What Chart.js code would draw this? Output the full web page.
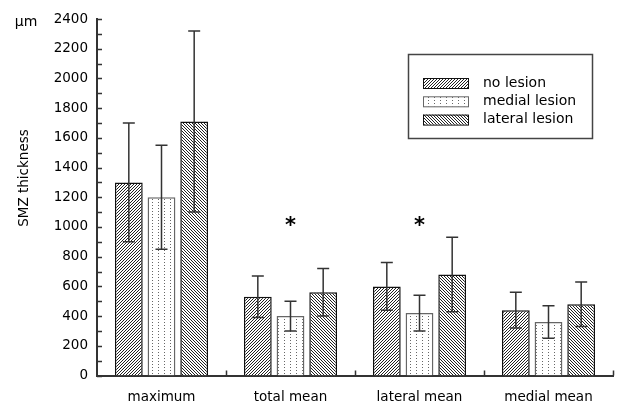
<!DOCTYPE html>
<html>
<head>
<meta charset="utf-8">
<script src="https://cdn.jsdelivr.net/npm/chart.js@4/dist/chart.umd.min.js"></script>
<style>
  html, body { margin: 0; padding: 0; background: #fff; }
  #wrap { width: 617px; height: 405px; }
</style>
</head>
<body>
<div id="wrap"><canvas id="myChart"></canvas></div>
<script>
// data
const categories = ['maximum', 'total mean', 'lateral mean', 'medial mean'];
const seriesNames = ['no lesion', 'medial lesion', 'lateral lesion'];
const noLesion = [1300, 530, 600, 440];
const medialLesion = [1200, 400, 420, 360];
const lateralLesion = [1710, 560, 680, 480];
const noLesionErr = [400, 140, 160, 120];
const medialLesionErr = [350, 100, 120, 110];
const lateralLesionErr = [610, 160, 250, 150];
const starCategories = [1, 2];   // significant groups (marked *)
const starValue = 1040;
const yTicks = [0, 200, 400, 600, 800, 1000, 1200, 1400, 1600, 1800, 2000, 2200, 2400];

const FONT = '"DejaVu Sans", sans-serif';

function makePattern(w, h, pixels, color) {
    const c = document.createElement('canvas');
    c.width = w; c.height = h;
    const g = c.getContext('2d');
    g.fillStyle = '#fff';
    g.fillRect(0, 0, w, h);
    g.fillStyle = color;
    pixels.forEach(p => g.fillRect(p[0], p[1], 1, 1));
    return g.createPattern(c, 'repeat');
}

// hatch fills like the scanned figure
const hatchUp = makePattern(3, 3, [[0, 2], [1, 1], [2, 0]], '#222');
const hatchDown = makePattern(3, 3, [[0, 0], [1, 1], [2, 2]], '#222');
const dots = makePattern(6, 3, [[2, 1]], '#666');

const fills = [hatchUp, dots, hatchDown];
const borders = ['#111', '#666', '#111'];
const errors = [noLesionErr, medialLesionErr, lateralLesionErr];

const extras = {
    id: 'extras',
    afterDatasetsDraw(chart) {
        const ctx = chart.ctx;
        const y = chart.scales.y;
        ctx.save();
        chart.data.datasets.forEach((ds, di) => {
            const meta = chart.getDatasetMeta(di);
            meta.data.forEach((bar, i) => {
                const v = ds.data[i], e = errors[di][i];
                const top = y.getPixelForValue(v + e);
                const bot = y.getPixelForValue(v - e);
                ctx.strokeStyle = '#333';
                ctx.lineWidth = 1.5;
                ctx.beginPath();
                ctx.moveTo(bar.x, top);
                ctx.lineTo(bar.x, bot);
                ctx.moveTo(bar.x - 6, top);
                ctx.lineTo(bar.x + 6, top);
                ctx.moveTo(bar.x - 6, bot);
                ctx.lineTo(bar.x + 6, bot);
                ctx.stroke();
            });
        });
        ctx.restore();
    },
    afterDraw(chart) {
        const ctx = chart.ctx;
        const {x, y} = chart.scales;
        const area = chart.chartArea;
        ctx.save();
        ctx.strokeStyle = '#333';
        ctx.lineWidth = 1.5;
        // inward ticks on y axis (major + minor)
        ctx.beginPath();
        for (let v = 0; v <= 2400; v += 100) {
            const py = Math.round(y.getPixelForValue(v)) + 0.5;
            ctx.moveTo(area.left, py);
            ctx.lineTo(area.left + 5, py);
        }
        // inward ticks between categories on x axis
        const step = x.getPixelForValue(1) - x.getPixelForValue(0);
        for (let i = 0; i < categories.length; i++) {
            const px = Math.round(x.getPixelForValue(i) + step / 2) + 0.5;
            ctx.moveTo(px, area.bottom);
            ctx.lineTo(px, area.bottom - 5);
        }
        ctx.stroke();

        // significance stars over the middle bar
        ctx.fillStyle = '#000';
        ctx.font = 'bold 21px ' + FONT;
        ctx.textAlign = 'center';
        ctx.textBaseline = 'middle';
        starCategories.forEach(ci => {
            const bar = chart.getDatasetMeta(1).data[ci];
            ctx.fillText('*', bar.x, y.getPixelForValue(starValue) + 6);
        });

        // unit and axis title
        ctx.font = '14px ' + FONT;
        ctx.fillText('µm', 26, 22);
        ctx.save();
        ctx.translate(24, 178);
        ctx.rotate(-Math.PI / 2);
        ctx.font = '13.5px ' + FONT;
        ctx.fillText('SMZ thickness', 0, 0);
        ctx.restore();

        // legend box
        ctx.lineWidth = 1.5;
        ctx.strokeStyle = '#444';
        ctx.strokeRect(408.5, 54.5, 184, 84);
        ctx.font = '14px ' + FONT;
        ctx.textAlign = 'left';
        seriesNames.forEach((name, i) => {
            const cy = 83 + i * 18.3;
            ctx.fillStyle = fills[i];
            ctx.fillRect(423, cy - 5, 45, 10);
            ctx.lineWidth = 1;
            ctx.strokeStyle = borders[i];
            ctx.strokeRect(423.5, cy - 4.5, 45, 10);
            ctx.fillStyle = '#000';
            ctx.fillText(name, 483, cy);
        });
        ctx.restore();
    }
};

const ctx = document.getElementById('myChart');

const myChart = new Chart(ctx, {
    type: 'bar',
    data: {
        labels: categories,
        datasets: [noLesion, medialLesion, lateralLesion].map((d, i) => ({
            label: seriesNames[i],
            data: d,
            backgroundColor: fills[i],
            borderColor: borders[i],
            borderWidth: 1.5,
            categoryPercentage: 0.76,
            barPercentage: 0.85
        }))
    },
    options: {
        responsive: true,
        maintainAspectRatio: false,
        animation: false,
        layout: { padding: { top: 19, right: 4, left: 0, bottom: 0 } },
        plugins: {
            legend: { display: false },
            tooltip: { enabled: false }
        },
        scales: {
            x: {
                grid: { display: false, drawTicks: false },
                border: { display: true, color: '#333', width: 2 },
                ticks: { color: '#000', font: { family: FONT, size: 13.5 }, padding: 14 },
                afterFit: s => { s.height = 29.5; }
            },
            y: {
                min: 0,
                max: 2400,
                afterBuildTicks: s => { s.ticks = yTicks.map(v => ({ value: v })); },
                grid: { display: false, drawTicks: false },
                border: { display: true, color: '#333', width: 2 },
                ticks: {
                    color: '#000',
                    font: { family: FONT, size: 13.5 },
                    padding: 9,
                    callback: v => String(v)
                },
                afterFit: s => { s.width = 97; }
            }
        }
    },
    plugins: [extras]
});
</script>
</body>
</html>
